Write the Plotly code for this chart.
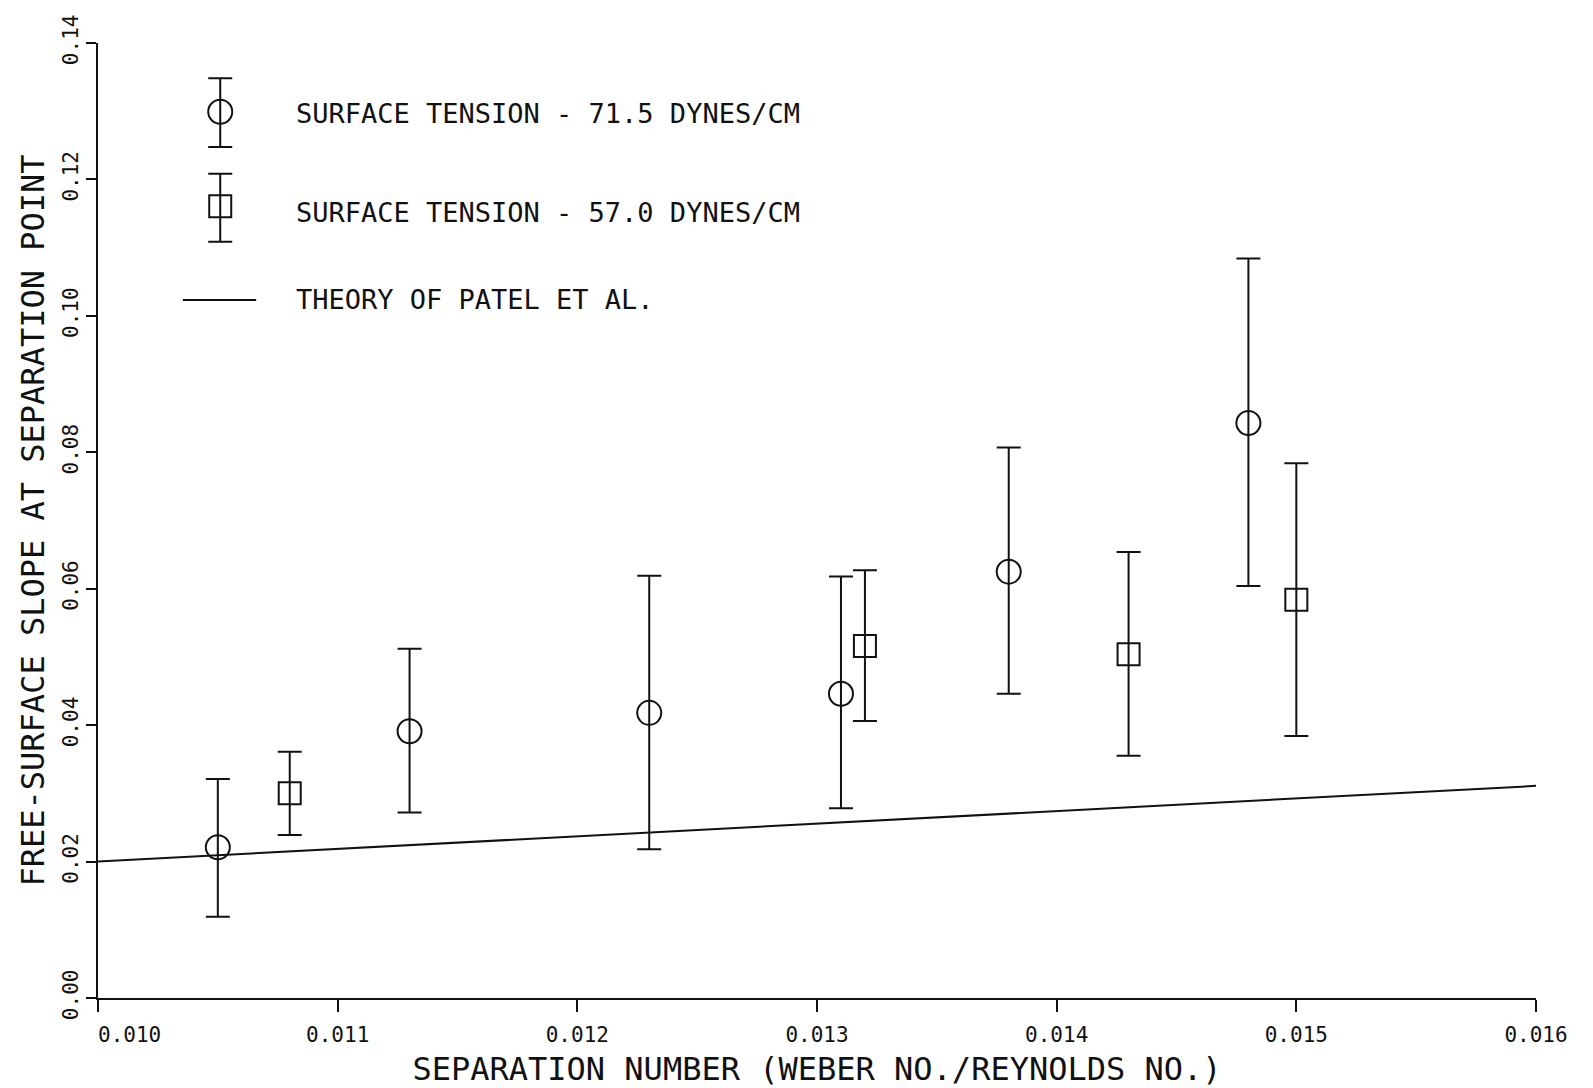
import plotly.graph_objects as go

# Free-surface slope at the separation point vs separation number
# Surface tension 71.5 dynes/cm (circles)
sep_715 = [0.0105, 0.0113, 0.0123, 0.0131, 0.0138, 0.0148]
slope_715 = [0.0221, 0.0391, 0.0418, 0.0446, 0.0625, 0.0843]
upper_715 = [0.0321, 0.0512, 0.0619, 0.0618, 0.0807, 0.1084]
lower_715 = [0.0119, 0.0272, 0.0218, 0.0278, 0.0446, 0.0604]

# Surface tension 57.0 dynes/cm (squares)
sep_570 = [0.0108, 0.0132, 0.0143, 0.0150]
slope_570 = [0.0300, 0.0516, 0.0504, 0.0584]
upper_570 = [0.0361, 0.0627, 0.0654, 0.0784]
lower_570 = [0.0239, 0.0406, 0.0355, 0.0384]

# Theory of Patel et al.
sep_theory = [0.010, 0.016]
slope_theory = [0.0200, 0.0311]

x_ticks = [0.010, 0.011, 0.012, 0.013, 0.014, 0.015, 0.016]
# first label nudged right, clear of the vertical axis
x_ticktext = ["\u00a0" * 5 + "0.010", "0.011", "0.012", "0.013", "0.014", "0.015", "0.016"]
y_ticks = [0.00, 0.02, 0.04, 0.06, 0.08, 0.10, 0.12, 0.14]
y_ticktext = ["0.00", "0.02", "0.04", "0.06", "0.08", "0.10", "0.12", "0.14"]

legend_labels = [
    "SURFACE TENSION - 71.5 DYNES/CM",
    "SURFACE TENSION - 57.0 DYNES/CM",
    "THEORY OF PATEL ET AL.",
]

FONT = "DejaVu Sans Mono"
INK = "#111111"


def err(vals, hi, lo):
    return dict(
        type="data", symmetric=False,
        array=[h - v for h, v in zip(hi, vals)],
        arrayminus=[v - l for v, l in zip(vals, lo)],
        color=INK, thickness=2, width=12,
    )


fig = go.Figure()

fig.add_trace(go.Scatter(
    x=sep_theory, y=slope_theory, mode="lines",
    line=dict(color=INK, width=2), showlegend=False,
))
fig.add_trace(go.Scatter(
    x=sep_715, y=slope_715, mode="markers",
    marker=dict(symbol="circle-open", size=24, color=INK, line=dict(width=2, color=INK)),
    error_y=err(slope_715, upper_715, lower_715), showlegend=False,
))
fig.add_trace(go.Scatter(
    x=sep_570, y=slope_570, mode="markers",
    marker=dict(symbol="square-open", size=22, color=INK, line=dict(width=2, color=INK)),
    error_y=err(slope_570, upper_570, lower_570), showlegend=False,
))

# Key drawn on an overlay axis spanning the plot area in 0..1 units
key_x = 0.085
fig.add_trace(go.Scatter(
    x=[key_x], y=[0.928], xaxis="x2", yaxis="y2", mode="markers",
    marker=dict(symbol="circle-open", size=24, color=INK, line=dict(width=2, color=INK)),
    error_y=dict(type="data", symmetric=False, array=[0.035], arrayminus=[0.037],
                 color=INK, thickness=2, width=12),
    showlegend=False, hoverinfo="skip",
))
fig.add_trace(go.Scatter(
    x=[key_x], y=[0.829], xaxis="x2", yaxis="y2", mode="markers",
    marker=dict(symbol="square-open", size=22, color=INK, line=dict(width=2, color=INK)),
    error_y=dict(type="data", symmetric=False, array=[0.034], arrayminus=[0.037],
                 color=INK, thickness=2, width=12),
    showlegend=False, hoverinfo="skip",
))
fig.add_trace(go.Scatter(
    x=[0.059, 0.110], y=[0.731, 0.731], xaxis="x2", yaxis="y2", mode="lines",
    line=dict(color=INK, width=2), showlegend=False, hoverinfo="skip",
))

for label, ky in zip(legend_labels, [0.926, 0.823, 0.731]):
    fig.add_annotation(
        x=0.136, y=ky, xref="x2", yref="y2", text=label, showarrow=False,
        xanchor="left", yanchor="middle",
        font=dict(family=FONT, size=27, color=INK),
    )

fig.update_layout(
    width=1593, height=1088,
    margin=dict(l=98, r=57, t=43, b=90),
    paper_bgcolor="white", plot_bgcolor="white",
    font=dict(family=FONT, color=INK),
    xaxis=dict(
        range=[0.010, 0.016], tickvals=x_ticks, ticktext=x_ticktext,
        automargin=False,
        showgrid=False, zeroline=False, showline=True, linewidth=2, linecolor=INK,
        ticks="outside", ticklen=12, tickwidth=2, tickcolor=INK,
        ticklabelstandoff=5,
        tickfont=dict(family=FONT, size=21, color=INK),
        title=dict(text="SEPARATION NUMBER (WEBER NO./REYNOLDS NO.)",
                   font=dict(family=FONT, size=32, color=INK), standoff=12),
    ),
    yaxis=dict(
        range=[0, 0.14], tickvals=y_ticks, ticktext=y_ticktext, tickangle=-90,
        automargin=False,
        showgrid=False, zeroline=False, showline=True, linewidth=2, linecolor=INK,
        ticks="outside", ticklen=10, tickwidth=2, tickcolor=INK,
        tickfont=dict(family=FONT, size=21, color=INK),
        title=dict(text="FREE-SURFACE SLOPE AT SEPARATION POINT",
                   font=dict(family=FONT, size=32, color=INK), standoff=4),
    ),
    xaxis2=dict(overlaying="x", range=[0, 1], visible=False, fixedrange=True),
    yaxis2=dict(overlaying="y", range=[0, 1], visible=False, fixedrange=True),
)

fig.write_html("out.html")
